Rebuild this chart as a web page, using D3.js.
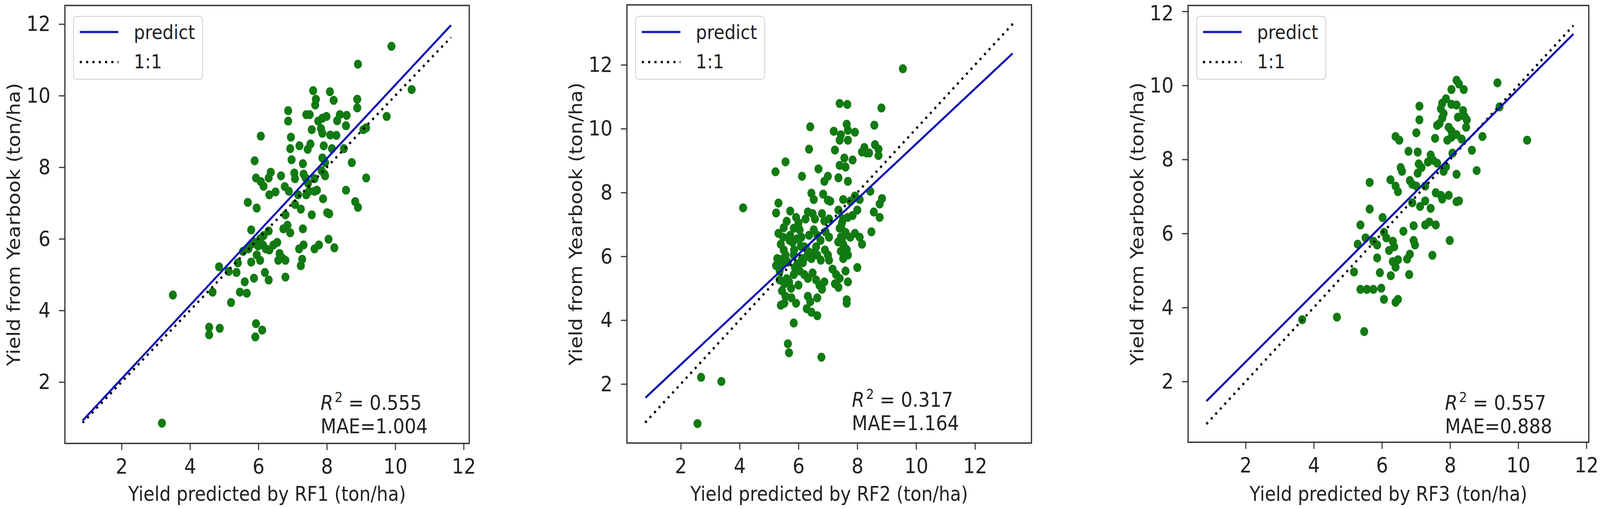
<!DOCTYPE html>
<html>
<head>
<meta charset="utf-8">
<script src="https://cdn.jsdelivr.net/npm/d3@7"></script>
<style>
  html, body { margin: 0; padding: 0; background: #fff; width: 100%; height: 100%; overflow: hidden; }
  #chart { width: 100vw; height: 100vh; }
  svg { display: block; }
  svg text { font-family: "DejaVu Sans", sans-serif; fill: #222; }
</style>
</head>
<body>
<div id="chart"></div>
<script>
// Three scatter panels: RF1, RF2, RF3 predicted vs yearbook yield

const rf1X = [8.91, 7.60, 7.68, 7.66, 8.09, 8.20, 8.89, 8.89, 6.87, 6.87, 7.40, 7.50, 7.75, 7.87, 7.99,
  8.38, 8.58, 8.56, 9.75, 9.15, 9.07, 7.56, 7.83, 7.87, 8.28, 6.07, 6.95, 7.20, 7.52, 7.44,
  6.93, 7.91, 8.15, 8.50, 5.89, 6.97, 7.30, 7.87, 7.95, 8.73, 9.15, 6.36, 6.30, 5.93, 6.07,
  6.15, 6.66, 7.05, 7.07, 7.32, 7.38, 7.64, 7.93, 7.95, 6.77, 6.89, 6.32, 6.50, 7.16, 7.40,
  7.48, 7.64, 7.71, 8.56, 8.83, 8.91, 5.69, 5.95, 7.07, 7.24, 7.89, 8.01, 8.07, 7.56, 6.79,
  6.85, 6.73, 6.93, 7.30, 5.79, 6.15, 6.30, 5.87, 5.99, 6.13, 6.22, 5.79, 5.71, 6.32, 6.44,
  6.62, 6.70, 6.58, 6.79, 7.19, 7.32, 7.64, 7.77, 8.05, 8.22, 7.28, 7.24, 4.85, 5.13, 5.40,
  5.36, 5.79, 6.05, 6.19, 6.30, 5.87, 5.60, 6.79, 4.66, 5.46, 5.66, 5.20, 4.56, 4.56, 4.87,
  5.93, 6.11, 5.91, 3.50, 3.18, 10.48, 9.89, 5.55, 5.95, 6.05, 7.45, 7.85, 8.10, 6.55, 8.30];
const rf1Y = [10.88, 10.14, 9.90, 9.74, 10.11, 9.87, 9.90, 9.66, 9.58, 9.29, 9.47, 9.47, 9.29, 9.37, 9.42,
  9.47, 9.45, 9.16, 9.42, 9.10, 9.05, 9.05, 9.08, 8.95, 8.89, 8.87, 8.84, 8.60, 8.65, 8.50,
  8.52, 8.60, 8.52, 8.52, 8.18, 8.21, 8.10, 8.26, 8.13, 8.13, 7.70, 7.86, 7.70, 7.70, 7.60,
  7.47, 7.76, 7.84, 7.68, 7.81, 7.70, 7.68, 7.81, 7.76, 7.46, 7.33, 7.23, 7.31, 7.23, 7.23,
  7.33, 7.33, 7.36, 7.36, 7.04, 6.88, 7.02, 6.86, 6.96, 6.83, 7.12, 6.73, 6.70, 6.67, 6.67,
  6.38, 6.28, 6.17, 6.28, 6.25, 6.09, 6.22, 5.91, 5.80, 5.83, 5.72, 5.85, 5.72, 5.69, 5.83,
  5.59, 5.46, 5.40, 5.40, 5.72, 5.83, 5.72, 5.83, 5.99, 5.75, 5.43, 5.25, 5.22, 5.09, 5.33,
  5.06, 5.35, 5.40, 5.06, 4.85, 4.90, 4.80, 4.93, 4.51, 4.51, 4.48, 4.22, 3.53, 3.32, 3.50,
  3.63, 3.45, 3.26, 4.43, 0.85, 10.17, 11.38, 5.65, 5.55, 6.00, 7.55, 7.90, 8.90, 5.90, 9.30];

const rf2X = [7.40, 7.66, 8.82, 6.40, 7.64, 7.20, 7.44, 7.68, 7.92, 7.68, 7.40, 8.58, 6.36, 7.24, 8.24,
  8.32, 8.60, 8.72, 8.72, 7.56, 7.40, 7.60, 7.84, 5.56, 5.22, 6.68, 6.12, 7.00, 6.88, 7.36,
  7.68, 8.16, 8.40, 6.44, 6.52, 6.84, 7.00, 7.08, 7.52, 7.76, 7.92, 8.08, 8.44, 8.84, 8.76,
  5.32, 5.24, 5.72, 5.92, 6.00, 5.84, 6.04, 6.24, 6.32, 6.48, 6.56, 6.80, 6.88, 7.04, 7.36,
  7.52, 7.68, 7.84, 8.00, 8.56, 8.76, 5.32, 5.48, 5.40, 5.72, 5.80, 5.96, 6.08, 6.36, 6.52,
  6.64, 6.92, 7.04, 7.40, 7.44, 7.52, 7.44, 7.64, 7.68, 7.52, 7.76, 7.92, 8.08, 8.16, 8.48,
  5.28, 5.44, 5.24, 5.36, 5.56, 5.64, 5.84, 5.96, 6.12, 6.32, 6.44, 6.64, 6.76, 7.00, 7.04,
  5.88, 6.04, 5.84, 6.20, 6.32, 6.48, 6.60, 6.72, 7.16, 7.28, 7.40, 7.60, 7.68, 8.00, 5.36,
  5.52, 5.68, 5.44, 5.56, 5.76, 5.92, 6.32, 6.40, 6.64, 6.88, 6.80, 7.24, 7.36, 7.64, 7.64,
  5.40, 5.52, 6.28, 6.44, 6.64, 5.84, 5.64, 5.68, 6.78, 4.12, 2.69, 3.38, 2.57, 9.55, 5.50,
  5.60, 5.70, 5.85, 6.00, 6.10, 6.20, 6.30, 5.50, 5.40, 7.45, 7.50, 7.55, 7.60, 7.48, 7.35,
  6.60, 6.45, 6.75, 6.90, 5.60, 5.75, 6.00, 6.15];
const rf2Y = [10.79, 10.76, 10.65, 10.06, 10.14, 9.92, 9.81, 9.95, 9.89, 9.64, 9.64, 10.11, 9.36, 9.33, 9.41,
  9.24, 9.50, 9.36, 9.16, 9.08, 8.85, 8.80, 9.02, 8.96, 8.65, 8.74, 8.51, 8.51, 8.35, 8.46,
  8.35, 9.27, 9.24, 7.98, 7.78, 7.95, 7.76, 7.73, 7.78, 7.73, 7.89, 7.78, 8.04, 7.81, 7.64,
  7.67, 7.36, 7.42, 7.22, 7.05, 6.88, 6.83, 7.17, 7.39, 7.34, 7.17, 7.34, 7.11, 7.17, 7.45,
  7.17, 7.22, 7.28, 7.45, 7.39, 7.22, 6.72, 6.60, 6.38, 6.66, 6.44, 6.55, 6.32, 6.66, 6.83,
  6.66, 6.77, 6.60, 6.88, 6.60, 6.38, 6.16, 6.21, 6.04, 5.93, 6.60, 6.72, 6.60, 6.38, 6.77,
  5.93, 5.76, 5.71, 5.54, 6.04, 5.82, 6.04, 5.76, 5.93, 6.16, 5.93, 6.04, 5.88, 6.04, 5.88,
  5.65, 5.54, 5.43, 5.43, 5.31, 5.48, 5.26, 5.09, 5.60, 5.43, 5.31, 5.54, 5.20, 5.65, 5.26,
  5.14, 5.20, 4.92, 4.75, 4.70, 4.53, 4.75, 4.58, 4.70, 5.20, 4.97, 5.14, 5.03, 4.64, 4.53,
  4.47, 4.53, 4.36, 4.25, 4.14, 3.91, 3.26, 2.98, 2.84, 7.52, 2.21, 2.08, 0.76, 11.88, 6.90,
  7.10, 6.50, 6.20, 6.90, 6.60, 6.30, 6.00, 6.20, 5.90, 6.90, 6.60, 6.30, 6.75, 7.05, 6.45,
  6.30, 6.10, 6.50, 6.20, 5.30, 5.00, 5.10, 5.80];

const rf3X = [9.39, 8.19, 8.26, 8.40, 8.04, 7.88, 7.77, 8.04, 8.19, 7.10, 7.73, 7.81, 7.77, 8.38, 8.42,
  8.49, 8.23, 7.10, 7.62, 7.69, 7.96, 8.04, 7.92, 8.04, 8.19, 8.34, 8.47, 7.01, 7.56, 6.40,
  6.51, 8.95, 8.64, 6.78, 7.05, 7.43, 7.50, 7.35, 7.62, 8.07, 6.55, 6.59, 7.08, 7.16, 7.05,
  7.81, 7.88, 8.19, 8.78, 6.25, 5.64, 6.82, 6.89, 7.01, 6.40, 6.47, 7.27, 7.58, 7.73, 7.77,
  7.96, 8.19, 8.26, 6.89, 7.12, 7.27, 7.43, 5.64, 6.02, 5.37, 6.63, 6.93, 7.27, 7.39, 7.58,
  5.52, 6.06, 6.13, 5.29, 5.75, 5.86, 6.32, 6.36, 6.93, 6.97, 7.99, 6.21, 5.86, 6.82, 6.74,
  6.32, 6.47, 6.40, 7.48, 5.18, 5.94, 6.26, 6.80, 5.37, 5.56, 5.75, 5.98, 6.06, 6.40, 6.47,
  5.48, 4.68, 3.66, 10.26, 9.45];
const rf3Y = [10.07, 10.14, 10.04, 9.89, 9.89, 9.64, 9.52, 9.49, 9.47, 9.44, 9.37, 9.24, 9.12, 9.32, 9.17,
  9.07, 9.14, 9.07, 8.92, 8.97, 8.87, 8.77, 8.52, 8.60, 8.67, 8.55, 8.87, 8.72, 8.57, 8.62,
  8.52, 8.62, 8.25, 8.22, 8.20, 8.12, 7.98, 7.93, 7.90, 8.17, 7.78, 7.68, 7.88, 7.78, 7.63,
  7.68, 7.80, 7.60, 7.70, 7.45, 7.38, 7.43, 7.33, 7.28, 7.28, 7.13, 7.28, 7.10, 7.03, 6.93,
  7.03, 6.86, 6.88, 6.83, 6.73, 6.88, 6.68, 6.66, 6.43, 6.23, 6.06, 6.21, 6.23, 6.31, 6.23,
  5.88, 6.03, 5.88, 5.71, 5.79, 5.69, 5.79, 5.64, 5.81, 5.69, 5.81, 5.54, 5.34, 5.44, 5.31,
  5.24, 5.29, 5.09, 5.41, 4.96, 4.94, 4.86, 4.89, 4.49, 4.49, 4.49, 4.52, 4.22, 4.14, 4.22,
  3.35, 3.74, 3.67, 8.52, 9.42];

// fitted line end points [x0, y0, x1, y1]
const predictLines = [[0.86, 0.92, 11.63, 11.97], [0.80, 1.57, 13.28, 12.36], [0.85, 1.47, 11.62, 11.39]];
// 1:1 line x range
const oneToOneRange = [[0.86, 11.63], [0.79, 13.29], [0.85, 11.62]];

const xDomains = [[0.343, 12.164], [0.17, 13.92], [0.312, 12.07]];
const yDomains = [[0.284, 12.52], [0.15, 13.88], [0.359, 12.16]];
const tickValues = [2, 4, 6, 8, 10, 12];

const modelNames = ['RF1', 'RF2', 'RF3'];
const r2Values = ['0.555', '0.317', '0.557'];
const maeValues = ['1.004', '1.164', '0.888'];
const legendLabels = ['predict', '1:1'];

const VIS_CONFIG = {
  width: 4562,
  height: 1304,
  frames: [
    { left: 185, right: 1338, top: 14, bottom: 1136, textX: 914, r2Y: 1050, maeY: 1110 },
    { left: 1787.5, right: 2941, top: 12.5, bottom: 1135, textX: 2429, r2Y: 1042, maeY: 1102 },
    { left: 3387.5, right: 4530, top: 14, bottom: 1133, textX: 4120, r2Y: 1050, maeY: 1110 },
  ],
  tickFont: 54,
  green: '#127a12',
  blue: '#1414b4',
  frameColor: '#333',
};

function drawPanel(svg, i) {
  const f = VIS_CONFIG.frames[i];
  const xs = [rf1X, rf2X, rf3X][i];
  const ys = [rf1Y, rf2Y, rf3Y][i];
  const points = xs.map((x, k) => ({ x: x, y: ys[k] }));

  const x = d3.scaleLinear().domain(xDomains[i]).range([f.left, f.right]);
  const y = d3.scaleLinear().domain(yDomains[i]).range([f.bottom, f.top]);

  const g = svg.append('g');

  // scatter
  g.append('g')
    .selectAll('circle')
    .data(points)
    .join('circle')
    .attr('cx', d => x(d.x))
    .attr('cy', d => y(d.y))
    .attr('r', 11.5)
    .attr('fill', VIS_CONFIG.green);

  const line = d3.line().x(d => x(d[0])).y(d => y(d[1]));

  const r = oneToOneRange[i];
  g.append('path')
    .attr('d', line([[r[0], r[0]], [r[1], r[1]]]))
    .attr('fill', 'none')
    .attr('stroke', '#000')
    .attr('stroke-width', 6)
    .attr('stroke-dasharray', '6 12');

  const p = predictLines[i];
  g.append('path')
    .attr('d', line([[p[0], p[1]], [p[2], p[3]]]))
    .attr('fill', 'none')
    .attr('stroke', VIS_CONFIG.blue)
    .attr('stroke-width', 5.5);

  // axes
  const xAxis = g.append('g')
    .attr('transform', `translate(0,${f.bottom})`)
    .call(d3.axisBottom(x).tickValues(tickValues).tickSize(17).tickSizeOuter(0).tickPadding(22));
  const yAxis = g.append('g')
    .attr('transform', `translate(${f.left},0)`)
    .call(d3.axisLeft(y).tickValues(tickValues).tickSize(17).tickSizeOuter(0).tickPadding(24));

  [xAxis, yAxis].forEach(a => {
    a.select('.domain').remove();
    a.selectAll('line').attr('stroke', VIS_CONFIG.frameColor).attr('stroke-width', 3);
    a.selectAll('text')
      .attr('fill', '#222')
      .attr('font-size', VIS_CONFIG.tickFont)
      .attr('font-family', '"DejaVu Sans", sans-serif');
  });

  // keep a top y tick label inside the picture
  const fs = VIS_CONFIG.tickFont;
  yAxis.selectAll('text')
    .attr('y', d => Math.max(0, 0.93 * fs - 0.32 * fs - y(d) + 1));

  // frame
  g.append('rect')
    .attr('x', f.left)
    .attr('y', f.top)
    .attr('width', f.right - f.left)
    .attr('height', f.bottom - f.top)
    .attr('fill', 'none')
    .attr('stroke', VIS_CONFIG.frameColor)
    .attr('stroke-width', 3.5);

  // axis labels
  g.append('text')
    .attr('x', (f.left + f.right) / 2)
    .attr('y', 1283)
    .attr('text-anchor', 'middle')
    .attr('font-size', 51)
    .text(`Yield predicted by ${modelNames[i]} (ton/ha)`);

  g.append('text')
    .attr('transform', `translate(${f.left - 128},${(f.top + f.bottom) / 2}) rotate(-90)`)
    .attr('text-anchor', 'middle')
    .attr('font-size', 51)
    .text('Yield from Yearbook (ton/ha)');

  // legend
  const lg = g.append('g').attr('transform', `translate(${f.left + 24.5},42)`);
  lg.append('rect')
    .attr('width', 368)
    .attr('height', 161)
    .attr('rx', 9)
    .attr('fill', '#fff')
    .attr('fill-opacity', 0.85)
    .attr('stroke', '#d4d4d4')
    .attr('stroke-width', 2.5);
  lg.append('line')
    .attr('x1', 18).attr('x2', 128).attr('y1', 40).attr('y2', 40)
    .attr('stroke', VIS_CONFIG.blue).attr('stroke-width', 5.5);
  lg.append('line')
    .attr('x1', 18).attr('x2', 128).attr('y1', 117).attr('y2', 117)
    .attr('stroke', '#000').attr('stroke-width', 6).attr('stroke-dasharray', '6 12');
  lg.selectAll('text.lab')
    .data(legendLabels)
    .join('text')
    .attr('class', 'lab')
    .attr('x', 172)
    .attr('y', (d, k) => 58 + k * 75)
    .attr('font-size', 50)
    .text(d => d);

  // stats
  const st = g.append('text')
    .attr('x', f.textX)
    .attr('y', f.r2Y)
    .attr('font-size', 52);
  st.append('tspan').attr('font-style', 'italic').text('R');
  st.append('tspan').attr('font-size', 36).attr('dx', 4).attr('dy', -20).text('2');
  st.append('tspan').attr('dy', 20).text(` = ${r2Values[i]}`);

  g.append('text')
    .attr('x', f.textX)
    .attr('y', f.maeY)
    .attr('font-size', 52)
    .text(`MAE=${maeValues[i]}`);
}

function init() {
  // the drawing is laid out on a 4562 x 1304 grid and stretched to fill the window
  const svg = d3.select('#chart')
    .append('svg')
    .attr('viewBox', `0 0 ${VIS_CONFIG.width} ${VIS_CONFIG.height}`)
    .attr('preserveAspectRatio', 'none')
    .attr('width', '100%')
    .attr('height', '100%');

  svg.append('rect').attr('width', VIS_CONFIG.width).attr('height', VIS_CONFIG.height).attr('fill', '#fff');

  [0, 1, 2].forEach(i => drawPanel(svg, i));
}

init();
</script>
</body>
</html>
